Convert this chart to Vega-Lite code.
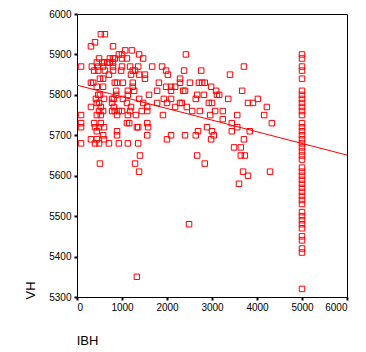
{
"$schema":"https://vega.github.io/schema/vega-lite/v6.json",
"width":270,"height":283,
"autosize":{"type":"none"},
"padding":{"left":77,"top":14,"right":19,"bottom":55},
"background":"white",
"config":{"view":{"stroke":"black","strokeWidth":1},"font":"Liberation Sans"},
"datasets":{
"fit":[{"IBH":0,"VH":5824},{"IBH":6000,"VH":5651}],
"pts":[
{"IBH":530,"VH":5950},{"IBH":620,"VH":5950},
{"IBH":400,"VH":5930},
{"IBH":310,"VH":5920},{"IBH":800,"VH":5920},
{"IBH":1070,"VH":5910},{"IBH":1220,"VH":5910},
{"IBH":930,"VH":5900},{"IBH":1000,"VH":5900},{"IBH":1380,"VH":5900},{"IBH":2420,"VH":5900},
{"IBH":490,"VH":5890},{"IBH":730,"VH":5890},{"IBH":800,"VH":5890},{"IBH":840,"VH":5890},{"IBH":1000,"VH":5890},{"IBH":1110,"VH":5890},{"IBH":1470,"VH":5890},
{"IBH":440,"VH":5880},{"IBH":560,"VH":5880},{"IBH":600,"VH":5880},{"IBH":670,"VH":5880},{"IBH":730,"VH":5880},{"IBH":800,"VH":5880},
{"IBH":90,"VH":5870},{"IBH":330,"VH":5870},{"IBH":470,"VH":5870},{"IBH":580,"VH":5870},{"IBH":800,"VH":5870},{"IBH":1000,"VH":5870},{"IBH":1180,"VH":5870},{"IBH":1360,"VH":5870},{"IBH":1670,"VH":5870},{"IBH":1890,"VH":5870},{"IBH":3710,"VH":5870},
{"IBH":380,"VH":5860},{"IBH":470,"VH":5860},{"IBH":620,"VH":5860},{"IBH":800,"VH":5860},{"IBH":980,"VH":5860},{"IBH":1240,"VH":5860},{"IBH":1290,"VH":5860},{"IBH":1980,"VH":5860},{"IBH":2380,"VH":5860},{"IBH":2760,"VH":5860},
{"IBH":710,"VH":5850},{"IBH":1200,"VH":5850},{"IBH":1380,"VH":5850},{"IBH":1510,"VH":5850},{"IBH":2020,"VH":5850},{"IBH":3400,"VH":5850},
{"IBH":510,"VH":5840},{"IBH":580,"VH":5840},{"IBH":1510,"VH":5840},{"IBH":2290,"VH":5840},
{"IBH":310,"VH":5830},{"IBH":360,"VH":5830},{"IBH":840,"VH":5830},{"IBH":890,"VH":5830},{"IBH":1020,"VH":5830},{"IBH":1240,"VH":5830},{"IBH":1820,"VH":5830},{"IBH":2290,"VH":5830},{"IBH":2510,"VH":5830},{"IBH":2710,"VH":5830},{"IBH":2780,"VH":5830},{"IBH":2840,"VH":5830},
{"IBH":440,"VH":5820},{"IBH":580,"VH":5820},{"IBH":1240,"VH":5820},{"IBH":1980,"VH":5820},{"IBH":2090,"VH":5820},{"IBH":2180,"VH":5820},{"IBH":2980,"VH":5820},
{"IBH":870,"VH":5810},{"IBH":1130,"VH":5810},{"IBH":1270,"VH":5810},{"IBH":1780,"VH":5810},{"IBH":2090,"VH":5810},{"IBH":2360,"VH":5810},{"IBH":2400,"VH":5810},{"IBH":3090,"VH":5810},{"IBH":3670,"VH":5810},
{"IBH":470,"VH":5800},{"IBH":510,"VH":5800},{"IBH":870,"VH":5800},{"IBH":1130,"VH":5800},{"IBH":1600,"VH":5800},{"IBH":2670,"VH":5800},{"IBH":2820,"VH":5800},{"IBH":3110,"VH":5800},{"IBH":3160,"VH":5800},
{"IBH":420,"VH":5790},{"IBH":600,"VH":5790},{"IBH":780,"VH":5790},{"IBH":820,"VH":5790},{"IBH":1020,"VH":5790},{"IBH":1380,"VH":5790},{"IBH":1930,"VH":5790},{"IBH":2090,"VH":5790},{"IBH":2640,"VH":5790},{"IBH":3360,"VH":5790},{"IBH":4020,"VH":5790},
{"IBH":440,"VH":5780},{"IBH":490,"VH":5780},{"IBH":780,"VH":5780},{"IBH":1110,"VH":5780},{"IBH":1470,"VH":5780},{"IBH":1780,"VH":5780},{"IBH":2000,"VH":5780},{"IBH":2290,"VH":5780},{"IBH":2330,"VH":5780},{"IBH":2930,"VH":5780},{"IBH":3000,"VH":5780},{"IBH":3800,"VH":5780},{"IBH":3910,"VH":5780},
{"IBH":310,"VH":5770},{"IBH":530,"VH":5770},{"IBH":820,"VH":5770},{"IBH":1200,"VH":5770},{"IBH":1560,"VH":5770},{"IBH":2180,"VH":5770},{"IBH":2440,"VH":5770},{"IBH":4220,"VH":5770},
{"IBH":490,"VH":5760},{"IBH":580,"VH":5760},{"IBH":780,"VH":5760},{"IBH":840,"VH":5760},{"IBH":930,"VH":5760},{"IBH":1000,"VH":5760},{"IBH":1180,"VH":5760},{"IBH":1440,"VH":5760},{"IBH":1560,"VH":5760},{"IBH":2560,"VH":5760},{"IBH":2730,"VH":5760},{"IBH":3070,"VH":5760},{"IBH":3240,"VH":5760},
{"IBH":90,"VH":5750},{"IBH":440,"VH":5750},{"IBH":530,"VH":5750},{"IBH":890,"VH":5750},{"IBH":1130,"VH":5750},{"IBH":1310,"VH":5750},{"IBH":1910,"VH":5750},{"IBH":2960,"VH":5750},{"IBH":3560,"VH":5750},{"IBH":4160,"VH":5750},
{"IBH":3240,"VH":5740},
{"IBH":90,"VH":5730},{"IBH":380,"VH":5730},{"IBH":530,"VH":5730},{"IBH":1110,"VH":5730},{"IBH":1160,"VH":5730},{"IBH":1560,"VH":5730},{"IBH":3440,"VH":5730},{"IBH":4330,"VH":5730},
{"IBH":90,"VH":5720},{"IBH":400,"VH":5720},{"IBH":490,"VH":5720},{"IBH":600,"VH":5720},{"IBH":1330,"VH":5720},{"IBH":1360,"VH":5720},{"IBH":1580,"VH":5720},{"IBH":2890,"VH":5720},{"IBH":3560,"VH":5720},
{"IBH":440,"VH":5710},{"IBH":890,"VH":5710},{"IBH":2690,"VH":5710},{"IBH":3000,"VH":5710},{"IBH":3440,"VH":5710},{"IBH":3840,"VH":5710},
{"IBH":580,"VH":5700},{"IBH":890,"VH":5700},{"IBH":1560,"VH":5700},{"IBH":2090,"VH":5700},{"IBH":2400,"VH":5700},{"IBH":2640,"VH":5700},{"IBH":3040,"VH":5700},
{"IBH":310,"VH":5690},{"IBH":440,"VH":5690},{"IBH":600,"VH":5690},{"IBH":2000,"VH":5690},{"IBH":2980,"VH":5690},{"IBH":3710,"VH":5690},
{"IBH":90,"VH":5680},{"IBH":400,"VH":5680},{"IBH":490,"VH":5680},{"IBH":710,"VH":5680},{"IBH":930,"VH":5680},{"IBH":1130,"VH":5680},{"IBH":1360,"VH":5680},
{"IBH":3490,"VH":5670},{"IBH":3640,"VH":5670},
{"IBH":1400,"VH":5650},{"IBH":2670,"VH":5650},{"IBH":3640,"VH":5650},{"IBH":3730,"VH":5650},
{"IBH":510,"VH":5630},{"IBH":1290,"VH":5630},{"IBH":2840,"VH":5630},
{"IBH":1380,"VH":5610},{"IBH":3690,"VH":5610},{"IBH":4290,"VH":5610},
{"IBH":3800,"VH":5600},{"IBH":3600,"VH":5580},{"IBH":2490,"VH":5480},{"IBH":1330,"VH":5350},
{"IBH":5000,"VH":5900},{"IBH":5000,"VH":5890},{"IBH":5000,"VH":5870},{"IBH":5000,"VH":5860},{"IBH":5000,"VH":5840},{"IBH":5000,"VH":5810},{"IBH":5000,"VH":5800},{"IBH":5000,"VH":5790},{"IBH":5000,"VH":5780},{"IBH":5000,"VH":5770},{"IBH":5000,"VH":5760},{"IBH":5000,"VH":5750},{"IBH":5000,"VH":5730},{"IBH":5000,"VH":5720},{"IBH":5000,"VH":5710},{"IBH":5000,"VH":5700},{"IBH":5000,"VH":5690},{"IBH":5000,"VH":5680},{"IBH":5000,"VH":5670},{"IBH":5000,"VH":5660},{"IBH":5000,"VH":5650},{"IBH":5000,"VH":5640},{"IBH":5000,"VH":5620},{"IBH":5000,"VH":5610},{"IBH":5000,"VH":5600},{"IBH":5000,"VH":5590},{"IBH":5000,"VH":5580},{"IBH":5000,"VH":5570},{"IBH":5000,"VH":5560},{"IBH":5000,"VH":5550},{"IBH":5000,"VH":5540},{"IBH":5000,"VH":5530},{"IBH":5000,"VH":5510},{"IBH":5000,"VH":5500},{"IBH":5000,"VH":5490},{"IBH":5000,"VH":5480},{"IBH":5000,"VH":5470},{"IBH":5000,"VH":5450},{"IBH":5000,"VH":5440},{"IBH":5000,"VH":5420},{"IBH":5000,"VH":5410},{"IBH":5000,"VH":5320}
]},
"layer":[
{"data":{"name":"pts"},
 "mark":{"type":"point","shape":"square","filled":false,"size":30,"color":"#ff0000","strokeWidth":1,"opacity":1},
 "encoding":{
  "x":{"field":"IBH","type":"quantitative","scale":{"domain":[0,6000],"nice":false,"zero":false},
   "axis":{"values":[0,1000,2000,3000,4000,5000,6000],"format":"d","grid":false,"domainColor":"black","tickColor":"black","tickSize":3,"tickWidth":2,"labelFontSize":10,"labelColor":"black","labelPadding":2,"title":"IBH","titleFontSize":13,"titleFontWeight":"normal","titleColor":"black","titleX":10,"titleY":43,"titleAlign":"center","titleBaseline":"middle"}},
  "y":{"field":"VH","type":"quantitative","scale":{"domain":[5300,6000],"nice":false,"zero":false},
   "axis":{"values":[5300,5400,5500,5600,5700,5800,5900,6000],"format":"d","grid":false,"domainColor":"black","tickColor":"black","tickSize":3,"tickWidth":2,"labelFontSize":10,"labelColor":"black","labelPadding":3,"title":"VH","titleFontSize":13,"titleFontWeight":"normal","titleColor":"black","titleAngle":270,"titleX":-47,"titleY":276,"titleAlign":"center","titleBaseline":"middle"}}
 }},
{"data":{"name":"fit"},
 "mark":{"type":"line","color":"#ff0000","strokeWidth":1},
 "encoding":{"x":{"field":"IBH","type":"quantitative"},"y":{"field":"VH","type":"quantitative"}}}
]
}
